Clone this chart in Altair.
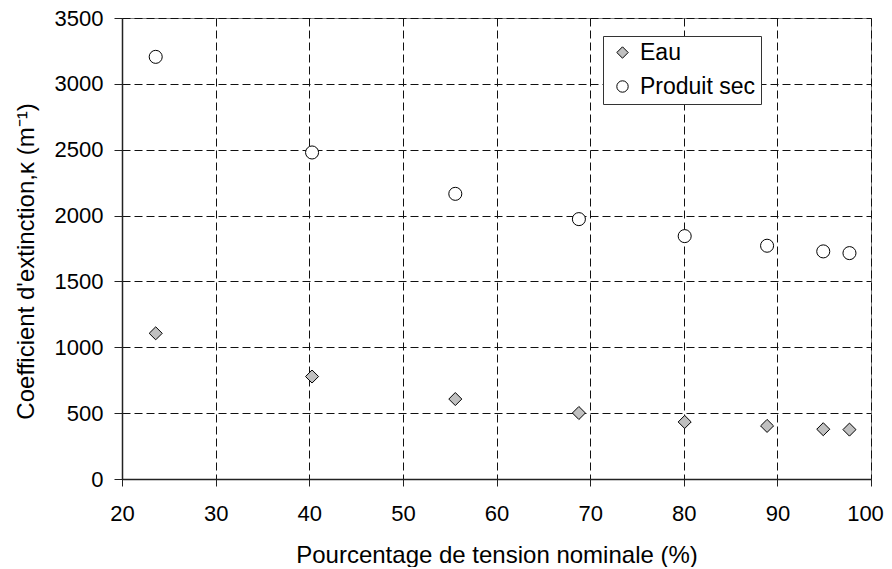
import altair as alt
import pandas as pd

tension = [23.6, 40.3, 55.6, 68.8, 80.1, 88.9, 94.9, 97.7]
eau = [1106, 778, 607, 501, 433, 403, 378, 375]
produit_sec = [3205, 2479, 2165, 1973, 1844, 1771, 1728, 1715]
series = ["Eau", "Produit sec"]
x_ticks = [20, 30, 40, 50, 60, 70, 80, 90, 100]
y_ticks = [0, 500, 1000, 1500, 2000, 2500, 3000, 3500]

rows = []
for t, v in zip(tension, eau):
    rows.append({"x": t, "y": v, "s": "Eau"})
for t, v in zip(tension, produit_sec):
    rows.append({"x": t, "y": v, "s": "Produit sec"})
df = pd.DataFrame(rows)

FONT = "Liberation Sans"

def make_legend():
    return alt.Legend(title=None, orient="none", legendX=481, legendY=18,
                      strokeColor="#333", fillColor="white", padding=5,
                      symbolSize=130, symbolStrokeWidth=1, symbolOffset=3,
                      labelFont=FONT, labelFontSize=23, labelColor="black",
                      labelOffset=6, rowPadding=10, cornerRadius=0)

chart = alt.Chart(df).mark_point(filled=True, strokeWidth=1, opacity=1, size=170).encode(
    x=alt.X("x:Q", scale=alt.Scale(domain=[20, 100], nice=False, zero=False),
            axis=alt.Axis(values=x_ticks, title="Pourcentage de tension nominale (%)",
                          format="d", tickSize=7, labelPadding=17, titleX=374.5, titleY=83,
                          titleBaseline="alphabetic", titleAnchor="middle",
                          labelOffset={"condition": {"test": "datum.value == 100", "value": -6},
                                       "value": 0})),
    y=alt.Y("y:Q", scale=alt.Scale(domain=[0, 3500], nice=False),
            axis=alt.Axis(values=y_ticks, title="Coefficient d'extinction,κ (m⁻¹)",
                          format="d", tickSize=8, labelPadding=11, titleX=-89, titleY=243,
                          titleAngle=-90, titleBaseline="alphabetic", titleAnchor="middle")),
    shape=alt.Shape("s:N", scale=alt.Scale(domain=series, range=["diamond", "circle"]),
                    legend=make_legend()),
    fill=alt.Fill("s:N", scale=alt.Scale(domain=series, range=["#c0c0c0", "white"]),
                  legend=make_legend()),
    stroke=alt.Stroke("s:N", scale=alt.Scale(domain=series, range=["black", "black"]),
                      legend=make_legend()),
).properties(
    width=749, height=461,
    autosize=alt.AutoSizeParams(type="none"),
    padding={"left": 114, "top": 10, "right": 13, "bottom": 88},
).configure_view(
    stroke="#808080", strokeWidth=1
).configure_axis(
    labelFont=FONT, labelFontSize=22, labelColor="black",
    titleFont=FONT, titleFontSize=24, titleColor="black", titleFontWeight="normal",
    domainColor="#222", domainWidth=1.5, tickColor="#222", tickWidth=1,
    grid=True, gridColor="#111", gridDash=[8, 4], gridWidth=1, gridOpacity=1,
    labelFlush=False,
)

chart.save("out.html", embed_options={"renderer": "svg", "actions": False})
